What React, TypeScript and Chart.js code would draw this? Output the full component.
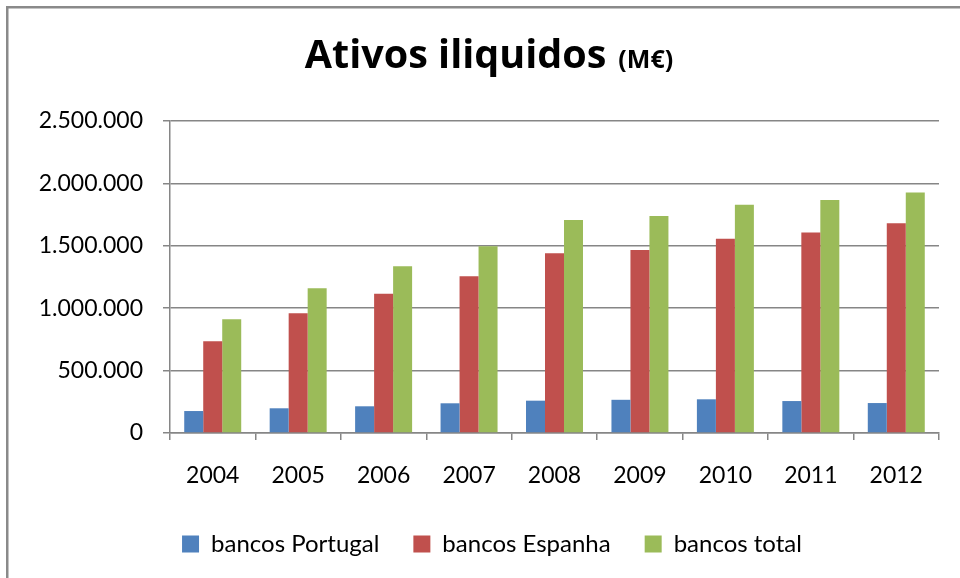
import React, { useEffect, useRef } from 'react';
import { Chart, registerables } from 'chart.js';

Chart.register(...registerables);

const years = ['2004', '2005', '2006', '2007', '2008', '2009', '2010', '2011', '2012'];
const bancosPortugal = [176000, 198000, 214000, 238000, 259000, 266000, 270000, 256000, 240000];
const bancosEspanha = [736000, 960000, 1115000, 1256000, 1440000, 1466000, 1557000, 1607000, 1680000];
const bancosTotal = [912000, 1160000, 1336000, 1497000, 1706000, 1738000, 1829000, 1866000, 1928000];
const seriesNames = ['bancos Portugal', 'bancos Espanha', 'bancos total'];
const seriesColors = ['#4f81bd', '#c0504d', '#9bbb59'];
const yMax = 2500000;
const yStep = 500000;
const titleMain = 'Ativos iliquidos';
const titleUnit = '(M€)';

const fmt = (v: number) => String(Math.round(v)).replace(/\B(?=(\d{3})+(?!\d))/g, '.');

const gridColor = '#868686';
const axisFont = { family: 'Lato, "Open Sans", sans-serif', size: 23 };

const framePlugin = {
  id: 'frameAndTitle',
  afterLayout(chart: any) {
    if (chart.legend) {
      chart.legend.left += 22.5;
      chart.legend.right += 22.5;
    }
  },
  beforeDraw(chart: any) {
    const ctx = chart.ctx;
    ctx.save();
    ctx.fillStyle = '#ffffff';
    ctx.fillRect(0, 0, chart.width, chart.height);
    ctx.strokeStyle = '#8a8a8a';
    ctx.lineWidth = 2.5;
    ctx.strokeRect(7.25, 7.25, chart.width + 50, chart.height + 50);
    ctx.restore();
  },
  afterDraw(chart: any) {
    const ctx = chart.ctx;
    ctx.save();
    ctx.fillStyle = '#000000';
    ctx.textBaseline = 'alphabetic';
    ctx.textAlign = 'left';
    const bigFont = 'bold 39.5px "Open Sans", Lato, sans-serif';
    const smallFont = 'bold 25px "Open Sans", Lato, sans-serif';
    ctx.font = bigFont;
    const w1 = ctx.measureText(titleMain).width;
    ctx.font = smallFont;
    const w2 = ctx.measureText(titleUnit).width;
    const gap = 12;
    const total = w1 + gap + w2;
    const cx = 489;
    const x0 = cx - total / 2;
    const baseline = 68;
    ctx.font = bigFont;
    ctx.fillText(titleMain, x0, baseline);
    ctx.font = smallFont;
    ctx.fillText(titleUnit, x0 + w1 + gap, baseline);
    ctx.restore();
  },
};

export default function App() {
  const ref = useRef<HTMLCanvasElement | null>(null);

  useEffect(() => {
    if (!ref.current) return;
    const data = [bancosPortugal, bancosEspanha, bancosTotal];
    const chart = new Chart(ref.current, {
      type: 'bar',
      data: {
        labels: years,
        datasets: data.map((d, i) => ({
          label: seriesNames[i],
          data: d,
          backgroundColor: seriesColors[i],
          borderWidth: 0,
          categoryPercentage: 0.667,
          barPercentage: 1,
        })),
      },
      options: {
        responsive: false,
        animation: false,
        devicePixelRatio: 1,
        layout: { padding: { top: 121, left: 0, right: 21, bottom: 12 } },
        plugins: {
          title: { display: false },
          tooltip: { enabled: false },
          legend: {
            position: 'bottom',
            labels: {
              boxWidth: 17,
              boxHeight: 17,
              padding: 34,
              color: '#000000',
              font: { family: 'Lato, "Open Sans", sans-serif', size: 24 },
            },
          },
        },
        scales: {
          x: {
            offset: true,
            grid: { offset: true, drawOnChartArea: false, tickLength: 7, color: gridColor, lineWidth: 1.5 },
            border: { color: gridColor, width: 1.5 },
            ticks: { color: '#000000', font: axisFont, padding: 22, maxRotation: 0 },
            afterFit: (s: any) => { s.height = 65; },
          },
          y: {
            min: 0,
            max: yMax,
            ticks: { stepSize: yStep, color: '#000000', font: axisFont, padding: 20, callback: (v: any) => fmt(Number(v)) },
            grid: { tickLength: 7, color: gridColor, lineWidth: 1.5 },
            border: { color: gridColor, width: 1.5 },
            afterFit: (s: any) => { s.width = 170; },
          },
        },
      },
      plugins: [framePlugin],
    });
    return () => chart.destroy();
  }, []);

  return (
    <div style={{ position: 'fixed', left: 0, top: 0, width: 960, height: 578, background: '#fff' }}>
      <canvas ref={ref} width={960} height={578} style={{ display: 'block', width: 960, height: 578 }} />
    </div>
  );
}
